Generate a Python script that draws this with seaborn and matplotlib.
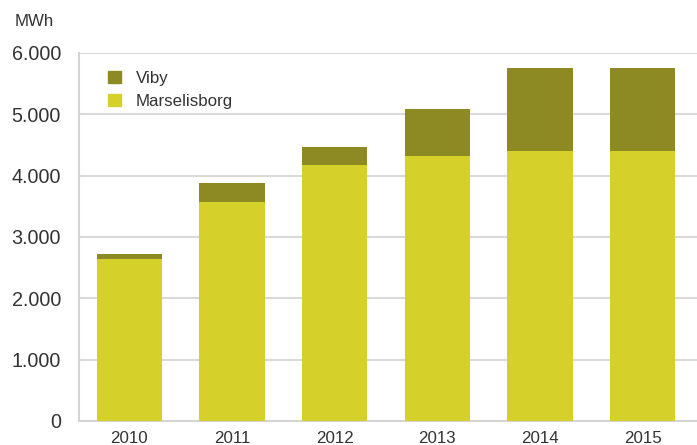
import numpy as np
import pandas as pd
import matplotlib
matplotlib.use('Agg')
import matplotlib.pyplot as plt
import seaborn as sns
from matplotlib.patches import Patch
from matplotlib.ticker import FuncFormatter

years = ['2010', '2011', '2012', '2013', '2014', '2015']
marselisborg = [2640, 3570, 4175, 4320, 4400, 4400]
viby = [85, 310, 290, 765, 1355, 1355]

col_mars = '#d5d12a'
col_viby = '#8d8a24'

df = pd.DataFrame({'year': years, 'Marselisborg': marselisborg, 'Viby': viby})
df['total'] = df['Marselisborg'] + df['Viby']

sns.set_style('white')
plt.rcParams['font.family'] = ['Liberation Sans', 'DejaVu Sans']

fig = plt.figure(figsize=(6.97, 4.45), dpi=100)
ax = fig.add_axes([79 / 697, 1 - 421 / 445, 1 - 79 / 697, (421 - 53) / 445])

sns.barplot(data=df, x='year', y='total', color=col_viby, width=0.635,
            saturation=1, linewidth=0, ax=ax, zorder=3)
sns.barplot(data=df, x='year', y='Marselisborg', color=col_mars, width=0.635,
            saturation=1, linewidth=0, ax=ax, zorder=3)

ax.set_ylim(0, 6000)
ax.set_xlim(-0.49, 5.53)
ax.set_yticks(np.arange(0, 6001, 1000))
ax.yaxis.set_major_formatter(FuncFormatter(lambda v, p: f'{int(v):,}'.replace(',', '.')))
ax.grid(axis='y', color='#d9d9d9', linewidth=1.5, zorder=0)
ax.set_axisbelow(True)
ax.set_xlabel('')
ax.set_ylabel('')
for s in ['top', 'right']:
    ax.spines[s].set_visible(False)
ax.spines['left'].set_color('#d4d4d4')
ax.spines['left'].set_linewidth(1.5)
ax.spines['bottom'].set_color('#d4d4d4')
ax.spines['bottom'].set_linewidth(1.5)
ax.tick_params(axis='y', length=0, pad=13, labelsize=14.2, labelcolor='#333333')
ax.tick_params(axis='x', length=0, pad=7, labelsize=12.2, labelcolor='#333333')

fig.text(15 / 697, 1 - 22 / 445, 'MWh', fontsize=12.2, color='#333333', va='center', ha='left')

handles = [Patch(color=col_viby, label='Viby'), Patch(color=col_mars, label='Marselisborg')]
ax.legend(handles=handles, loc='upper left', bbox_to_anchor=(0.022, 0.993), frameon=False,
          fontsize=12.2, handlelength=0.75, handleheight=0.75, handletextpad=0.9,
          labelspacing=0.45, labelcolor='#333333')

fig.savefig('out.png', dpi=100)
